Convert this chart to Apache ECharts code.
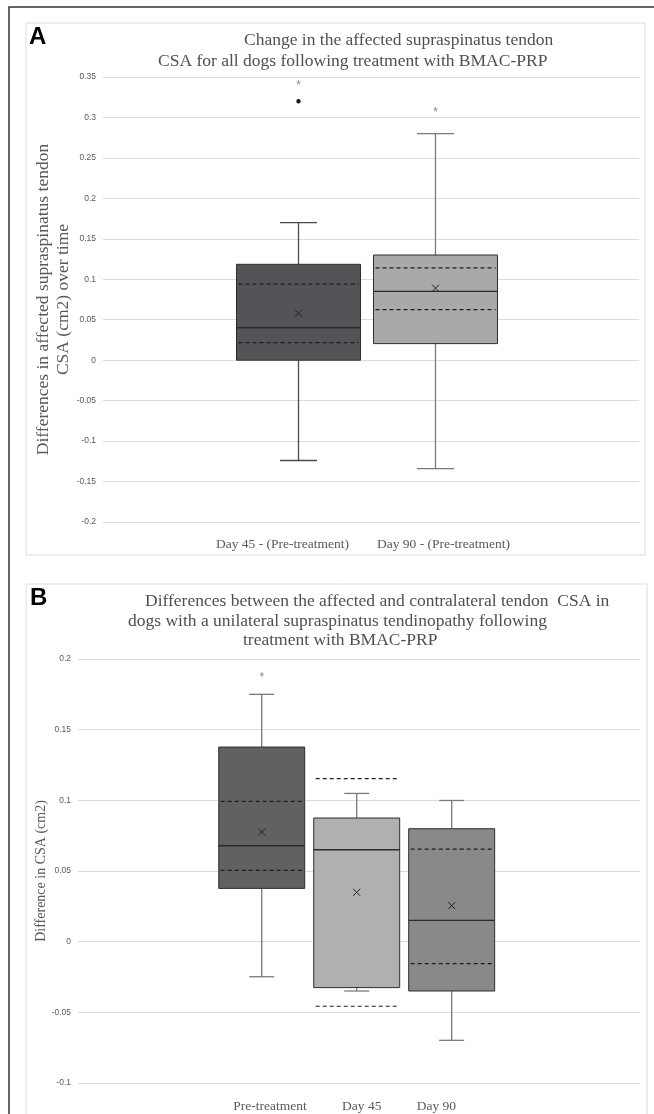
<!DOCTYPE html>
<html><head><meta charset="utf-8">
<script src="https://cdn.jsdelivr.net/npm/echarts@6/dist/echarts.min.js"></script>
<style>html,body{margin:0;padding:0;background:#fff}#c{width:654px;height:1114px}</style>
</head><body><div id="c"></div>
<script>
// ---------- Panel A data ----------
const namesA = ['Day 45 - (Pre-treatment)', 'Day 90 - (Pre-treatment)'];
const minA = [-0.124, -0.134];
const q1A = [0.0, 0.0205];
const medA = [0.040, 0.085];
const q3A = [0.1185, 0.130];
const maxA = [0.170, 0.280];
const meanA = [0.058, 0.089];
const dashLoA = [0.0217, 0.0625];
const dashHiA = [0.094, 0.114];
const outlierA = [0.320, NaN];
const starA = [0.343, 0.310];

// ---------- Panel B data ----------
const namesB = ['Pre-treatment', 'Day 45', 'Day 90'];
const minB = [-0.0248, -0.0349, -0.0698];
const q1B = [0.0377, -0.0325, -0.0349];
const medB = [0.0679, 0.065, 0.0151];
const q3B = [0.1377, 0.0875, 0.0799];
const maxB = [0.175, 0.1049, 0.0999];
const meanB = [0.0776, 0.0349, 0.0255];
const dashLoB = [0.0504, -0.0457, -0.0156];
const dashHiB = [0.0992, 0.1153, 0.0655];
const outlierB = [NaN, NaN, NaN];
const starB = [0.189, NaN, NaN];

const fillA = ['#545458', '#a9a9a9'];
const whiskA = ['#4a4a4a', '#7a7a7a'];
const fillB = ['#616161', '#b0b0b0', '#898989'];
const whiskB = ['#7a7a7a', '#7a7a7a', '#7a7a7a'];

function makeRender(k, n, stepFrac, shift, capW, fill, whisk) {
  return function (params, api) {
    const bandW = api.size([1, 0])[0];
    const step = bandW * stepFrac;
    const cx = api.coord([0, 0])[0] + (k - (n - 1) / 2) * step + shift;
    const bw = step * 0.905;
    const Y = v => api.coord([0, v])[1];
    const vmin = api.value(1), vq1 = api.value(2), vmed = api.value(3), vq3 = api.value(4),
          vmax = api.value(5), vmean = api.value(6), vdl = api.value(7), vdh = api.value(8),
          vstar = api.value(9), vout = api.value(10);
    const L = cx - bw / 2, R = cx + bw / 2;
    const ch = [];
    const ws = { stroke: whisk, lineWidth: 1.3 };
    ch.push({ type: 'line', shape: { x1: cx, y1: Y(vmax), x2: cx, y2: Y(vq3) }, style: ws });
    ch.push({ type: 'line', shape: { x1: cx, y1: Y(vq1), x2: cx, y2: Y(vmin) }, style: ws });
    ch.push({ type: 'line', shape: { x1: cx - capW / 2, y1: Y(vmax), x2: cx + capW / 2, y2: Y(vmax) }, style: ws });
    ch.push({ type: 'line', shape: { x1: cx - capW / 2, y1: Y(vmin), x2: cx + capW / 2, y2: Y(vmin) }, style: ws });
    ch.push({ type: 'rect', shape: { x: L, y: Y(vq3), width: bw, height: Y(vq1) - Y(vq3) },
      style: { fill: fill, stroke: '#2e2e2e', lineWidth: 1 } });
    ch.push({ type: 'line', shape: { x1: L, y1: Y(vmed), x2: R, y2: Y(vmed) }, style: { stroke: '#2a2a2a', lineWidth: 1.4 } });
    const ds = { stroke: '#1e1e1e', lineWidth: 1.2, lineDash: [4, 3] };
    ch.push({ type: 'line', shape: { x1: L + 2, y1: Y(vdl), x2: R - 2, y2: Y(vdl) }, style: ds });
    ch.push({ type: 'line', shape: { x1: L + 2, y1: Y(vdh), x2: R - 2, y2: Y(vdh) }, style: ds });
    const my = Y(vmean), s = 3.5;
    ch.push({ type: 'line', shape: { x1: cx - s, y1: my - s, x2: cx + s, y2: my + s }, style: { stroke: '#222', lineWidth: 1 } });
    ch.push({ type: 'line', shape: { x1: cx - s, y1: my + s, x2: cx + s, y2: my - s }, style: { stroke: '#222', lineWidth: 1 } });
    if (!isNaN(vout)) ch.push({ type: 'circle', shape: { cx: cx, cy: Y(vout), r: 2.2 }, style: { fill: '#1a1a1a' } });
    if (!isNaN(vstar)) ch.push({ type: 'text', x: cx, y: Y(vstar) + 3,
      style: { text: '*', fill: '#8a8a8a', fontSize: 12, fontFamily: 'Liberation Sans', align: 'center', verticalAlign: 'middle' } });
    return { type: 'group', children: ch };
  };
}

function buildSeries(names, mins, q1s, meds, q3s, maxs, means, dls, dhs, stars, outs, gridIdx, stepFrac, shift, capW, fills, whisks) {
  const n = names.length;
  return names.map((nm, k) => ({
    type: 'custom', name: nm, xAxisIndex: gridIdx, yAxisIndex: gridIdx,
    renderItem: makeRender(k, n, stepFrac, shift, capW, fills[k], whisks[k]),
    data: [[0, mins[k], q1s[k], meds[k], q3s[k], maxs[k], means[k], dls[k], dhs[k], stars[k], outs[k]]],
    silent: true
  }));
}

const serif = 'Liberation Serif';
const gray = '#595959';
const titleStyle = { fontFamily: serif, fontSize: 17.5, fontWeight: 'normal', color: '#505050', lineHeight: 20 };
const option = {
  animation: false,
  backgroundColor: '#fff',
  graphic: [
    { type: 'rect', shape: { x: 9, y: 7, width: 700, height: 1200 }, style: { fill: 'none', stroke: '#333', lineWidth: 1.5 } },
    { type: 'rect', shape: { x: 26, y: 23, width: 619, height: 532 }, style: { fill: 'none', stroke: '#dcdcdc', lineWidth: 1 } },
    { type: 'rect', shape: { x: 26, y: 584, width: 621, height: 600 }, style: { fill: 'none', stroke: '#dcdcdc', lineWidth: 1 } }
  ],
  title: [
    { text: 'A', left: 29, top: 25, padding: 0, textStyle: { fontFamily: 'Liberation Sans', fontWeight: 'bold', fontSize: 24, color: '#000' } },
    { text: 'Change in the affected supraspinatus tendon', left: 244, top: 30, padding: 0, textStyle: titleStyle },
    { text: 'CSA for all dogs following treatment with BMAC-PRP', left: 158, top: 51, padding: 0, textStyle: titleStyle },
    { text: 'B', left: 30, top: 586, padding: 0, textStyle: { fontFamily: 'Liberation Sans', fontWeight: 'bold', fontSize: 24, color: '#000' } },
    { text: 'Differences between the affected and contralateral tendon  CSA in', left: 145, top: 591, padding: 0, textStyle: titleStyle },
    { text: 'dogs with a unilateral supraspinatus tendinopathy following', left: 128, top: 611, padding: 0, textStyle: titleStyle },
    { text: 'treatment with BMAC-PRP', left: 243, top: 630, padding: 0, textStyle: titleStyle }
  ],
  legend: [
    { data: namesA, icon: 'none', itemWidth: 0, itemHeight: 14, itemGap: 3, padding: 0, left: 191, top: 537,
      selectedMode: false, formatter: '{a|{name}}',
      textStyle: { rich: { a: { width: 173, align: 'center', fontFamily: serif, fontSize: 13.5, color: gray } } } },
    { data: namesB, icon: 'none', itemWidth: 0, itemHeight: 14, itemGap: 3, padding: 0, left: 218, top: 1099,
      selectedMode: false, formatter: '{a|{name}}',
      textStyle: { rich: { a: { width: 94, align: 'center', fontFamily: serif, fontSize: 13.5, color: gray } } } }
  ],
  grid: [
    { left: 103, right: 15, top: 77, height: 445 },
    { left: 78, right: 14, top: 659, height: 424 }
  ],
  xAxis: [0, 1].map(i => ({
    type: 'category', gridIndex: i, data: [''], axisLine: { show: false }, axisTick: { show: false },
    axisLabel: { show: false }, splitLine: { show: false }
  })),
  yAxis: [
    { type: 'value', gridIndex: 0, min: -0.2, max: 0.35, interval: 0.05,
      name: 'Differences in affected supraspinatus tendon\nCSA (cm2) over time',
      nameLocation: 'middle', nameGap: 30, nameRotate: 90, nameMoveOverlap: false,
      nameTextStyle: { fontFamily: serif, fontSize: 17.5, color: gray, lineHeight: 19.5 },
      axisLine: { show: false }, axisTick: { show: false },
      axisLabel: { fontFamily: 'Liberation Sans', fontSize: 8.5, color: gray, margin: 7 },
      splitLine: { lineStyle: { color: '#dcdcdc', width: 1 } } },
    { type: 'value', gridIndex: 1, min: -0.1, max: 0.2, interval: 0.05,
      name: 'Difference in CSA (cm2)',
      nameLocation: 'middle', nameGap: 30, nameRotate: 90, nameMoveOverlap: false,
      nameTextStyle: { fontFamily: serif, fontSize: 14, color: gray },
      axisLine: { show: false }, axisTick: { show: false },
      axisLabel: { fontFamily: 'Liberation Sans', fontSize: 8.5, color: gray, margin: 7 },
      splitLine: { lineStyle: { color: '#dcdcdc', width: 1 } } }
  ],
  series: [].concat(
    buildSeries(namesA, minA, q1A, medA, q3A, maxA, meanA, dashLoA, dashHiA, starA, outlierA, 0, 0.2556, -4, 37, fillA, whiskA),
    buildSeries(namesB, minB, q1B, medB, q3B, maxB, meanB, dashLoB, dashHiB, starB, outlierB, 1, 0.169, -2.3, 25, fillB, whiskB)
  )
};
const chart = echarts.init(document.getElementById('c'), null, { renderer: 'canvas' });
chart.setOption(option);
</script></body></html>
